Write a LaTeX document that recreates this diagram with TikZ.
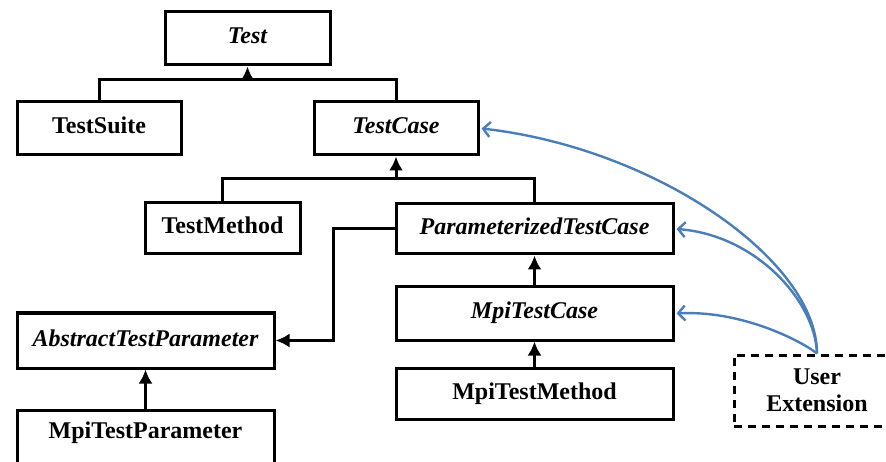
\documentclass[tikz,border=0pt]{standalone}
\usepackage{fontspec}
\setmainfont{Liberation Serif}
\usetikzlibrary{arrows.meta}
\definecolor{extblue}{RGB}{74,126,187}
\begin{document}
\begin{tikzpicture}[x=1pt,y=-1pt,
  box/.style={draw=black, line width=3pt, inner sep=0pt, text height=16pt, text depth=5pt,
    font=\fontsize{24}{28}\selectfont\bfseries},
  abs/.style={box, font=\fontsize{24}{28}\selectfont\bfseries\itshape},
  userbox/.style={box, dash pattern=on 8pt off 6pt, align=center, text height=, text depth=,
    font=\fontsize{24}{27}\selectfont\bfseries},
  conn/.style={line width=3pt},
  inh/.style={conn, -{Latex[length=14pt,width=14pt]}},
  ext/.style={draw=extblue, line width=2.4pt, -{Straight Barb[length=7pt,width=15pt,line width=2.4pt]}}]
\useasboundingbox (0,0) rectangle (886,462);
\clip (0,0) rectangle (886,462);

\node[abs, minimum width=165pt, minimum height=53pt] (test) at (247.5,38.5) {Test};
\node[box, minimum width=164pt, minimum height=53pt] (suite) at (99,128.5) {TestSuite};
\node[abs, minimum width=164pt, minimum height=53pt] (tcase) at (396,128.5) {TestCase};
\node[box, minimum width=155pt, minimum height=51pt] (tmethod) at (222.5,228.5) {TestMethod};
\node[abs, minimum width=277pt, minimum height=50pt] (param) at (534.5,229) {ParameterizedTestCase};
\node[abs, minimum width=257pt, minimum height=55pt] (atp) at (145.5,340.5) {AbstractTestParameter};
\node[box, minimum width=257pt, minimum height=60pt, text depth=20pt, anchor=north] (mtp) at (145.5,409) {MpiTestParameter};
\node[abs, minimum width=277pt, minimum height=53pt] (mcase) at (534.5,313.5) {MpiTestCase};
\node[box, minimum width=277pt, minimum height=51pt] (mmethod) at (534.5,393.5) {MpiTestMethod};
\node[userbox, minimum width=166pt, minimum height=71pt] (user) at (817,390.5) {User\\Extension};

\coordinate (j1) at (247.5,80);
\coordinate (j2) at (396,179);

\draw[conn] (suite.north) |- (j1) -| (tcase.north);
\draw[inh] (j1) -- (test.south);
\draw[conn] (tmethod.north) |- (j2) -| (param.north);
\draw[inh] (j2) -- (tcase.south);
\draw[inh] (param.west) -- ++(-61,0) |- (atp.east);
\draw[inh] (mtp.north) -- (atp.south);
\draw[inh] (mcase.north) -- (param.south);
\draw[inh] (mmethod.north) -- (mcase.south);

\draw[ext] (user.north) .. controls (817,260) and (655,148) .. ([xshift=2pt]tcase.east);
\draw[ext] (user.north) .. controls (815,300) and (755,235) .. ([xshift=2pt]param.east);
\draw[ext] (user.north) .. controls (800,340) and (740,310) .. ([xshift=2pt]mcase.east);
\end{tikzpicture}
\end{document}
